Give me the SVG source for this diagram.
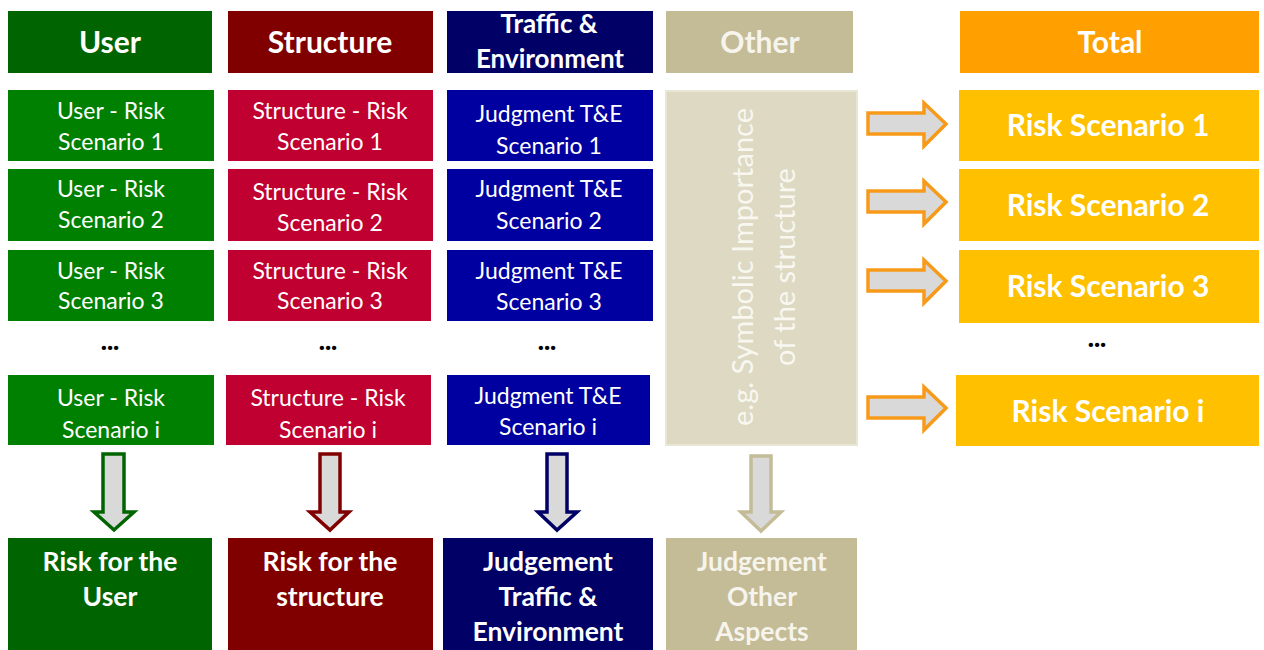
<svg xmlns="http://www.w3.org/2000/svg" width="1264" height="650" viewBox="0 0 1264 650">
<defs>
<style>
text{font-family:Lato,"Open Sans","Liberation Sans",sans-serif;fill:#fff;text-anchor:middle}
.h{font-size:30px;font-weight:bold}
.h2{font-size:26px;font-weight:bold}
.r{font-size:23px}
.b{font-size:26.5px;font-weight:bold}
.t{font-size:30px;font-weight:bold}
.v{font-size:29px;fill:#f8f7f0}
.dots{font-size:26px;font-weight:900;fill:#000}
.arr{fill:#d9d9d9;stroke-width:3.5;stroke-linejoin:miter}
</style>
</defs>
<rect width="1264" height="650" fill="#fff"/>
<g id="user-col">
<g id="user-header"><rect x="8" y="11" width="204" height="62" fill="#006400"/><text class="h" x="110" y="53">User</text></g>
<g id="user-1"><rect x="8" y="90" width="206" height="71" fill="#008000"/><text class="r" x="111" y="119">User - Risk</text><text class="r" x="111" y="150">Scenario 1</text></g>
<g id="user-2"><rect x="8" y="169" width="206" height="72" fill="#008000"/><text class="r" x="111" y="197">User - Risk</text><text class="r" x="111" y="228">Scenario 2</text></g>
<g id="user-3"><rect x="8" y="250" width="206" height="71" fill="#008000"/><text class="r" x="111" y="279">User - Risk</text><text class="r" x="111" y="309">Scenario 3</text></g>
<text class="dots" x="110" y="350">...</text>
<g id="user-i"><rect x="8" y="375" width="206" height="70" fill="#008000"/><text class="r" x="111" y="406">User - Risk</text><text class="r" x="111" y="438">Scenario i</text></g>
<g id="user-result"><rect x="8" y="538" width="204" height="112" fill="#006400"/><text class="b" x="110" y="571">Risk for the</text><text class="b" x="110" y="606">User</text></g>
</g>
<g id="structure-col">
<g id="structure-header"><rect x="228" y="11" width="205" height="62" fill="#800000"/><text class="h" x="330" y="53">Structure</text></g>
<g id="structure-1"><rect x="228" y="90" width="205" height="71" fill="#c00030"/><text class="r" x="330" y="119">Structure - Risk</text><text class="r" x="330" y="150">Scenario 1</text></g>
<g id="structure-2"><rect x="228" y="169" width="205" height="72" fill="#c00030"/><text class="r" x="330" y="200">Structure - Risk</text><text class="r" x="330" y="231">Scenario 2</text></g>
<g id="structure-3"><rect x="228" y="250" width="203" height="71" fill="#c00030"/><text class="r" x="330" y="279">Structure - Risk</text><text class="r" x="330" y="309">Scenario 3</text></g>
<text class="dots" x="328" y="350">...</text>
<g id="structure-i"><rect x="226" y="375" width="205" height="70" fill="#c00030"/><text class="r" x="328" y="406">Structure - Risk</text><text class="r" x="328" y="438">Scenario i</text></g>
<g id="structure-result"><rect x="228" y="538" width="205" height="112" fill="#800000"/><text class="b" x="330" y="571">Risk for the</text><text class="b" x="330" y="606">structure</text></g>
</g>
<g id="te-col">
<g id="te-header"><rect x="447" y="11" width="206" height="62" fill="#000066"/><text class="h2" x="549" y="33">Traffic &amp;</text><text class="h2" x="550" y="68">Environment</text></g>
<g id="te-1"><rect x="447" y="90" width="206" height="71" fill="#0000a0"/><text class="r" x="549" y="122">Judgment T&amp;E</text><text class="r" x="549" y="154">Scenario 1</text></g>
<g id="te-2"><rect x="447" y="169" width="206" height="72" fill="#0000a0"/><text class="r" x="549" y="197">Judgment T&amp;E</text><text class="r" x="549" y="229">Scenario 2</text></g>
<g id="te-3"><rect x="447" y="250" width="206" height="71" fill="#0000a0"/><text class="r" x="549" y="279">Judgment T&amp;E</text><text class="r" x="549" y="310">Scenario 3</text></g>
<text class="dots" x="547" y="350">...</text>
<g id="te-i"><rect x="447" y="375" width="203" height="70" fill="#0000a0"/><text class="r" x="548" y="404">Judgment T&amp;E</text><text class="r" x="548" y="435">Scenario i</text></g>
<g id="te-result"><rect x="443" y="538" width="210" height="112" fill="#000066"/><text class="b" x="548" y="571">Judgement</text><text class="b" x="548" y="606">Traffic &amp;</text><text class="b" x="548" y="641">Environment</text></g>
</g>
<g id="other-col">
<g id="other-header"><rect x="666" y="11" width="187" height="62" fill="#c4bc96"/><text class="h" x="760" y="53" style="fill:#f6f4ec">Other</text></g>
<g id="other-box"><rect x="666" y="91" width="191" height="354" fill="#ddd9c3" stroke="#e9e6d6" stroke-width="2"/>
<text class="v" transform="translate(753 267) rotate(-90)">e.g. Symbolic Importance</text>
<text class="v" transform="translate(795 267) rotate(-90)">of the structure</text></g>
<g id="other-result"><rect x="666" y="538" width="191" height="112" fill="#c4bc96"/><text class="b" x="762" y="571" style="fill:#f6f4ec">Judgement</text><text class="b" x="762" y="606" style="fill:#f6f4ec">Other</text><text class="b" x="762" y="641" style="fill:#f6f4ec">Aspects</text></g>
</g>
<g id="total-col">
<g id="total-header"><rect x="960" y="11" width="299" height="62" fill="#ffa000"/><text class="h" x="1110" y="53">Total</text></g>
<g id="total-1"><rect x="959" y="90" width="300" height="71" fill="#ffc000"/><text class="t" x="1108" y="136">Risk Scenario 1</text></g>
<g id="total-2"><rect x="959" y="169" width="300" height="72" fill="#ffc000"/><text class="t" x="1108" y="216">Risk Scenario 2</text></g>
<g id="total-3"><rect x="959" y="250" width="300" height="73" fill="#ffc000"/><text class="t" x="1108" y="297">Risk Scenario 3</text></g>
<text class="dots" x="1097" y="347">...</text>
<g id="total-i"><rect x="956" y="375" width="303" height="71" fill="#ffc000"/><text class="t" x="1108" y="422">Risk Scenario i</text></g>
</g>
<g id="connectors">
<path class="arr" stroke="#006400" d="M103,454 H124 V512 H134 L114,530 L94,512 H103 Z"/>
<path class="arr" stroke="#800000" d="M320,454 H340 V512 H349 L330,530 L310,512 H320 Z"/>
<path class="arr" stroke="#000066" d="M547,454 H567 V512 H577 L557,530 L538,512 H547 Z"/>
<path class="arr" stroke="#c4bc96" d="M751,456 H771 V512 H781 L761,531 L741,512 H751 Z"/>
<path class="arr" stroke="#f79a1a" d="M868,113 H924 V103 L946,124 L924,146 V134 H868 Z"/>
<path class="arr" stroke="#f79a1a" d="M868,191 H924 V181 L946,202 L924,224 V212 H868 Z"/>
<path class="arr" stroke="#f79a1a" d="M868,270 H924 V260 L946,281 L924,303 V291 H868 Z"/>
<path class="arr" stroke="#f79a1a" d="M868,397 H924 V387 L946,408 L924,430 V418 H868 Z"/>
</g>
</svg>
